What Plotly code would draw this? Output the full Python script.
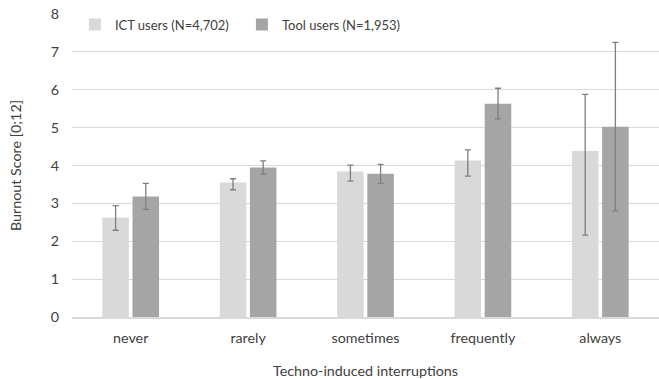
import plotly.graph_objects as go

categories = ["never", "rarely", "sometimes", "frequently", "always"]

ict_name = "ICT users (N=4,702)"
ict_values = [2.63, 3.55, 3.84, 4.13, 4.38]
ict_err_plus = [0.31, 0.10, 0.17, 0.28, 1.50]
ict_err_minus = [0.34, 0.19, 0.25, 0.41, 2.22]

tool_name = "Tool users (N=1,953)"
tool_values = [3.18, 3.95, 3.78, 5.63, 5.02]
tool_err_plus = [0.35, 0.17, 0.25, 0.41, 2.23]
tool_err_minus = [0.34, 0.18, 0.25, 0.40, 2.22]

y_title = "Burnout Score [0;12]"
x_title = "Techno-induced interruptions"

FONT = "Lato, 'Open Sans', sans-serif"
FS = 14.3
TXT = "#404040"
ERR = "#7f7f7f"

fig = go.Figure()
fig.add_trace(go.Bar(
    x=categories, y=ict_values, name=ict_name,
    marker=dict(color="#d9d9d9", line=dict(width=0)),
    error_y=dict(type="data", symmetric=False, array=ict_err_plus,
                 arrayminus=ict_err_minus, color=ERR, thickness=1.3, width=3),
))
fig.add_trace(go.Bar(
    x=categories, y=tool_values, name=tool_name,
    marker=dict(color="#a5a5a5", line=dict(width=0)),
    error_y=dict(type="data", symmetric=False, array=tool_err_plus,
                 arrayminus=tool_err_minus, color=ERR, thickness=1.3, width=3),
))

fig.update_layout(
    width=659, height=379,
    margin=dict(l=72, r=0, t=14, b=62),
    paper_bgcolor="white", plot_bgcolor="white",
    barmode="group", bargap=0.486, bargroupgap=0.12,
    font=dict(family=FONT, size=FS, color=TXT),
    showlegend=True,
    legend=dict(
        orientation="h", xanchor="left", yanchor="middle", x=0.005, y=0.965,
        bgcolor="rgba(0,0,0,0)", font=dict(family=FONT, size=13, color=TXT),
        itemwidth=30, entrywidth=122, entrywidthmode="pixels",
    ),
    xaxis=dict(
        showgrid=False, showline=True, linecolor="#d9d9d9", linewidth=2,
        ticks="", ticklabelstandoff=7, tickfont=dict(family=FONT, size=FS, color=TXT),
        title=dict(text=x_title, font=dict(family=FONT, size=FS, color=TXT), standoff=22),
    ),
    yaxis=dict(
        range=[0, 8], dtick=1, showgrid=True, gridcolor="#d9d9d9", gridwidth=1,
        zeroline=False, showline=False, ticks="", ticklabelstandoff=12,
        tickfont=dict(family=FONT, size=FS, color=TXT),
        title=dict(text=y_title, font=dict(family=FONT, size=FS, color=TXT), standoff=25),
    ),
)

fig.write_html("out.html", config={"displayModeBar": False},
               post_script="document.body.style.margin='0';")
